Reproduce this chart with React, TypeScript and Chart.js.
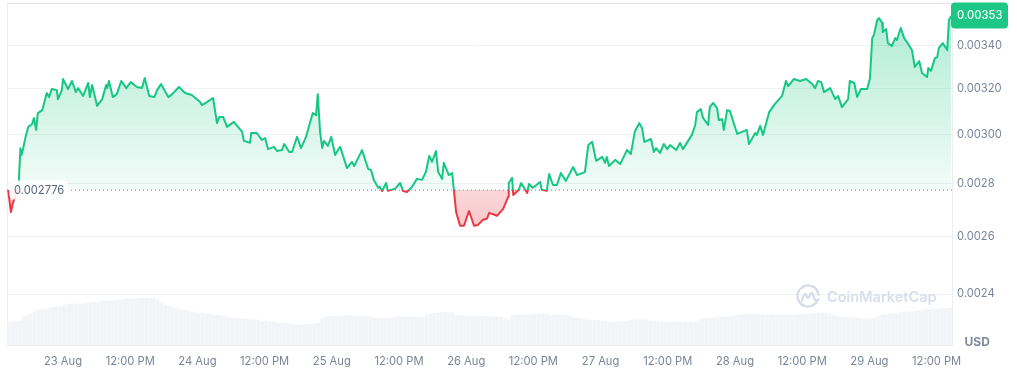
import React, { useEffect, useRef } from "react";
import { Chart, registerables } from "chart.js";

Chart.register(...registerables);

const BASE_PRICE = 0.002776;
const LAST_PRICE_LABEL = "0.00353";
const BASE_PRICE_LABEL = "0.002776";
const HOURS_SPAN = 168.75;

const xTickHours = [10, 22, 34, 46, 58, 70, 82, 94, 106, 118, 130, 142, 154, 166];
const xTickLabels = ["23 Aug", "12:00 PM", "24 Aug", "12:00 PM", "25 Aug", "12:00 PM", "26 Aug", "12:00 PM", "27 Aug", "12:00 PM", "28 Aug", "12:00 PM", "29 Aug", "12:00 PM"];
const yTickValues = [0.0034, 0.0032, 0.003, 0.0028, 0.0026, 0.0024];
const yTickLabels = ["0.00340", "0.00320", "0.00300", "0.0028", "0.0026", "0.0024"];

// hours since the start of the window
const priceHours = [
  0.2, 0.7, 1.1, 1.6, 2.1, 2.4, 2.6, 2.9, 3.4, 3.8, 4.5, 4.8, 5.2, 5.5, 6.3, 7.1, 7.5, 8.0, 8.9, 9.1, 9.8, 10.0, 10.9, 11.6, 12.3, 12.7, 13.6, 14.5, 14.8, 15.2,
  16.1, 17.0, 17.7, 17.9, 18.2, 18.9, 19.6, 20.4, 21.3, 22.1, 23.2, 24.1, 24.6, 25.4, 26.3, 26.8, 27.5, 28.8, 29.5, 30.7, 31.8, 33.0, 34.5, 34.8, 35.7, 36.8, 37.5, 37.9, 38.6, 39.3,
  40.5, 42.0, 42.3, 43.4, 43.6, 44.6, 45.5, 46.1, 46.6, 47.7, 48.2, 49.1, 49.5, 50.4, 50.9, 51.8, 52.5, 53.4, 54.6, 55.2, 55.5, 55.9, 56.3, 56.6, 57.3, 57.9, 58.6, 59.3, 59.5, 60.7,
  61.6, 62.0, 63.4, 64.5, 65.0, 65.5, 66.3, 66.6, 67.0, 67.7, 68.0, 69.3, 70.2, 70.7, 71.4, 72.3, 73.2, 74.1, 74.8, 75.4, 75.9, 76.6, 77.0, 77.7, 78.0, 78.9, 79.5, 79.8, 80.2, 80.9,
  81.6, 82.5, 83.4, 84.1, 85.0, 85.7, 86.1, 87.5, 88.6, 89.5, 89.6, 90.2, 90.4, 91.4, 91.8, 92.9, 93.2, 93.9, 95.2, 95.5, 96.4, 96.8, 97.5, 98.2, 98.9, 99.8, 101.1, 101.8, 103.2, 103.8,
  104.5, 105.2, 106.3, 106.8, 107.1, 107.5, 108.6, 109.5, 110.7, 111.4, 112.1, 112.9, 113.4, 113.8, 115.0, 115.5, 115.9, 116.6, 117.3, 117.9, 118.4, 119.5, 120.2, 120.7, 122.3, 122.9, 123.2, 123.9, 124.3, 125.2,
  125.5, 126.1, 126.8, 127.1, 127.7, 128.0, 128.6, 129.1, 129.6, 130.4, 132.1, 132.5, 133.6, 133.9, 134.5, 135.0, 136.1, 137.1, 138.4, 139.1, 139.5, 140.5, 141.6, 142.7, 143.8, 144.3, 144.8, 145.4, 145.9, 147.0,
  147.9, 148.4, 149.1, 150.2, 150.5, 151.3, 151.8, 152.5, 153.6, 154.1, 154.5, 154.8, 155.4, 155.7, 156.3, 156.4, 157.0, 157.3, 158.0, 158.6, 158.9, 159.6, 160.2, 160.7, 161.6, 162.1, 162.9, 163.4, 164.3, 164.5,
  165.0, 165.7, 166.1, 166.4, 167.1, 167.9, 168.2, 168.6,
];

// price in millionths of a US dollar
const priceMicroUsd = [
  2777, 2692, 2730, 2757, 2808, 2944, 2916, 2944, 2999, 3033, 3045, 3071, 3020, 3092, 3105, 3180, 3162, 3198, 3193, 3153, 3193, 3243, 3198, 3234, 3184, 3202, 3167, 3225, 3162, 3216,
  3123, 3153, 3216, 3202, 3234, 3162, 3175, 3234, 3202, 3229, 3207, 3202, 3247, 3167, 3162, 3193, 3220, 3162, 3175, 3207, 3180, 3171, 3140, 3127, 3140, 3158, 3049, 3075, 3075, 3033,
  3054, 3012, 2974, 2966, 3007, 3007, 2978, 2986, 2940, 2949, 2932, 2936, 2961, 2928, 2928, 2991, 2944, 2991, 3092, 3083, 3175, 3012, 2944, 2974, 2953, 2991, 2916, 2944, 2949, 2863,
  2888, 2871, 2936, 2859, 2855, 2816, 2785, 2788, 2773, 2804, 2773, 2781, 2804, 2773, 2769, 2788, 2820, 2816, 2847, 2912, 2888, 2932, 2847, 2820, 2884, 2835, 2843, 2777, 2692, 2641,
  2641, 2696, 2641, 2644, 2663, 2667, 2689, 2678, 2704, 2750, 2804, 2824, 2757, 2777, 2804, 2765, 2800, 2785, 2808, 2777, 2773, 2839, 2796, 2796, 2843, 2812, 2867, 2835, 2847, 2957,
  2970, 2892, 2908, 2884, 2908, 2871, 2896, 2879, 2936, 2920, 3012, 3049, 3028, 2970, 2982, 2928, 2944, 2924, 2961, 2940, 2957, 2936, 2966, 2940, 2999, 3041, 3096, 3109, 3071, 3041,
  3118, 3136, 3114, 3062, 3066, 3020, 3105, 3101, 3062, 3003, 3020, 2961, 3007, 2999, 3037, 2999, 3096, 3131, 3167, 3234, 3211, 3243, 3234, 3243, 3220, 3202, 3234, 3229, 3184, 3202,
  3153, 3167, 3118, 3153, 3234, 3225, 3162, 3198, 3198, 3247, 3434, 3449, 3522, 3532, 3507, 3463, 3478, 3410, 3396, 3434, 3425, 3483, 3434, 3415, 3377, 3298, 3325, 3270, 3252, 3293,
  3280, 3339, 3344, 3386, 3410, 3377, 3522, 3542,
];

// one bar every 40 minutes, in millions of US dollars
const VOLUME_STEP_HOURS = 2 / 3;
const volumeMillions = [
  23, 23, 24, 24, 28, 30, 31, 33, 35, 35.5, 36, 37, 38, 38, 38.5, 40, 41, 40.5, 41, 41, 41, 42, 42, 43, 43, 44, 44, 44, 44, 44.5,
  45, 46, 46, 46, 46, 46.5, 46.5, 46.5, 46.5, 47, 45, 42, 40, 39, 37, 36, 35, 34.5, 34, 33, 33, 32, 32, 31, 31, 30, 30, 29, 29, 28,
  27, 27, 26.5, 26, 25.5, 25.5, 25, 25, 24, 24, 23, 23, 22, 22, 22, 21, 21, 20, 20, 20, 20.5, 21, 21, 22, 27, 28, 28.5, 29, 29, 29,
  29, 29, 29, 29, 29, 29, 29, 28, 27, 27, 27, 27, 27, 27, 28.5, 28.5, 28, 28, 28, 28, 28, 28, 30, 31, 31.5, 32, 32.5, 33, 32.5, 32,
  29, 29, 29, 29, 29, 29, 29, 28.5, 28.5, 28.5, 28, 28, 28, 26, 25, 29.5, 30, 30, 30, 30, 30.5, 31, 31, 31, 30.5, 30, 30, 30, 30, 30,
  29, 28, 27, 27, 26, 25, 25, 24.5, 24.5, 24, 24, 23, 23, 23, 23, 23.5, 24, 25, 25, 25.5, 25.5, 25, 24, 24, 23.5, 23, 23, 23, 23, 23,
  23, 23, 22.5, 23, 23, 25, 26, 27, 27, 27, 28, 28, 28, 28.5, 29, 30, 30, 30.5, 31, 31, 31, 30.5, 30, 30, 30, 30, 30, 30, 30, 30,
  30, 30, 30.5, 31, 31, 31, 31.5, 32, 32, 32, 31, 30, 29, 28, 28, 27.5, 27, 27, 27, 26, 26, 25.5, 27, 29, 30, 30, 31, 31, 32, 33,
  33, 33, 33, 34, 34, 35, 35.5, 35.5, 36, 36, 36.5, 36.5, 37, 37,
];

const GREEN = "#16c784";
const RED = "#ea3943";
const FONT = "Inter, 'Noto Sans', sans-serif";
const TICK_COLOR = "#7a8598";

function roundedBox(c: CanvasRenderingContext2D, x: number, y: number, w: number, h: number, r: number) {
  c.beginPath();
  c.roundRect(x, y, w, h, r);
  c.fill();
}

function noMargins(s: any) {
  s.paddingLeft = 0;
  s.paddingRight = 0;
  s.paddingTop = 0;
  s.paddingBottom = 0;
}

const framePlugin = {
  id: "frame",
  beforeDatasetsDraw(chart: any) {
    const { ctx: c, chartArea: a } = chart;
    c.save();
    c.strokeStyle = "#eceef2";
    c.lineWidth = 1;
    c.strokeRect(a.left + 0.5, a.top + 0.5, a.right - a.left, a.bottom - a.top);
    c.strokeStyle = "#e3e5e9";
    c.beginPath();
    c.moveTo(a.left, a.top + 0.5);
    c.lineTo(a.right, a.top + 0.5);
    c.stroke();

    // watermark
    const lx = a.right - 144;
    const ly = a.bottom - 49;
    c.strokeStyle = "#d6dbe7";
    c.lineWidth = 2.2;
    c.lineCap = "round";
    c.lineJoin = "round";
    c.beginPath();
    c.arc(lx, ly, 10.5, 0.35, Math.PI * 2 - 0.1, false);
    c.stroke();
    c.beginPath();
    c.moveTo(lx - 6, ly + 5);
    c.quadraticCurveTo(lx - 3.5, ly - 6.5, lx - 1, ly + 1);
    c.quadraticCurveTo(lx + 0.5, ly + 3.5, lx + 2, ly - 1);
    c.quadraticCurveTo(lx + 4, ly - 6, lx + 6, ly + 2);
    c.quadraticCurveTo(lx + 8, ly + 6, lx + 10.5, ly + 3.5);
    c.stroke();
    c.fillStyle = "#d9deea";
    c.font = `600 14.5px ${FONT}`;
    c.textAlign = "left";
    c.textBaseline = "middle";
    c.fillText("CoinMarketCap", lx + 19, ly + 2);
    c.restore();
  },
  afterDatasetsDraw(chart: any) {
    const { ctx: c, chartArea: a, scales } = chart;
    const by = scales.y.getPixelForValue(BASE_PRICE);
    c.save();
    c.fillStyle = "rgba(255,255,255,0.88)";
    roundedBox(c, a.left + 2.5, by - 9.5, 59, 19, 5);
    c.fillStyle = "#58667e";
    c.font = `11.2px ${FONT}`;
    c.textAlign = "left";
    c.textBaseline = "middle";
    c.fillText(BASE_PRICE_LABEL, a.left + 7, by + 1);

    c.fillStyle = "#1cc785";
    roundedBox(c, a.right - 1, a.top - 0.5, 57, 26, 4);
    c.fillStyle = "#f2fff9";
    c.font = `500 11.2px ${FONT}`;
    c.fillText(LAST_PRICE_LABEL, a.right + 5, a.top + 13);

    c.fillStyle = "#808a9d";
    c.font = `700 12px ${FONT}`;
    c.fillText("USD", a.right + 12.5, a.bottom - 2.5);
    c.restore();
  },
};

export default function App() {
  const ref = useRef<HTMLCanvasElement>(null);

  useEffect(() => {
    const canvas = ref.current;
    if (!canvas) return;
    const priceSeries = priceHours.map((h, i) => ({ x: h, y: priceMicroUsd[i] / 1e6 }));
    const volumeSeries = volumeMillions.map((v, i) => ({ x: i * VOLUME_STEP_HOURS + 0.25, y: v }));
    const baseSeries = [
      { x: 0, y: BASE_PRICE },
      { x: HOURS_SPAN, y: BASE_PRICE },
    ];
    const chart = new Chart(canvas, {
      type: "line",
      data: {
        datasets: [
          {
            type: "line",
            data: priceSeries,
            yAxisID: "y",
            borderColor: GREEN,
            borderWidth: 2,
            pointRadius: 0,
            tension: 0,
            borderJoinStyle: "round",
            fill: { target: { value: BASE_PRICE }, above: "rgba(22,199,132,0.2)", below: "rgba(234,57,67,0.2)" },
            order: 2,
          },
          {
            type: "line",
            data: baseSeries,
            yAxisID: "y",
            borderColor: "#7d8799",
            borderWidth: 1,
            borderDash: [1, 3],
            pointRadius: 0,
            fill: false,
            order: 1,
          },
          {
            type: "bar",
            data: volumeSeries,
            yAxisID: "v",
            backgroundColor: "#f2f4f7",
            barThickness: 3,
            order: 3,
          },
        ],
      } as any,
      options: {
        animation: false,
        responsive: false,
        devicePixelRatio: 1,
        layout: { padding: { left: 7, top: 3, right: 0, bottom: 0 } },
        plugins: { legend: { display: false }, tooltip: { enabled: false } },
        events: [],
        scales: {
          x: {
            type: "linear",
            offset: false,
            min: 0,
            max: HOURS_SPAN,
            grid: { display: false, offset: false, drawTicks: false },
            border: { display: false },
            afterBuildTicks: (s: any) => {
              s.ticks = xTickHours.map((value) => ({ value }));
            },
            afterFit: (s: any) => {
              s.height = 25;
              noMargins(s);
            },
            ticks: {
              autoSkip: false,
              maxRotation: 0,
              padding: 10,
              color: TICK_COLOR,
              font: { family: FONT, size: 11.2 },
              callback: (v: any) => xTickLabels[xTickHours.indexOf(Number(v))] ?? "",
            },
          },
          y: {
            type: "logarithmic",
            position: "right",
            bounds: "data",
            min: 0.002235,
            max: 0.003607,
            grid: { color: "#eff1f4", drawTicks: false, lineWidth: 1 },
            border: { display: true, color: "#eceef2" },
            afterBuildTicks: (s: any) => {
              s.ticks = yTickValues.map((value) => ({ value }));
            },
            afterFit: (s: any) => {
              s.width = 65;
              noMargins(s);
            },
            ticks: {
              autoSkip: false,
              padding: 5,
              color: TICK_COLOR,
              font: { family: FONT, size: 11.2 },
              callback: (v: any) => yTickLabels[yTickValues.indexOf(Number(v))] ?? "",
            },
          },
          v: { type: "linear", display: false, min: 0, max: 341.5 },
        },
      } as any,
      plugins: [framePlugin],
    } as any);

    // Gradients depend on the final scale geometry.
    const area = chart.chartArea;
    const c = canvas.getContext("2d")!;
    const yScale = chart.scales.y;
    const basePx = yScale.getPixelForValue(BASE_PRICE);
    const up = c.createLinearGradient(0, area.top, 0, basePx);
    up.addColorStop(0, "rgba(22,199,132,0.36)");
    up.addColorStop(1, "rgba(22,199,132,0.05)");
    const down = c.createLinearGradient(0, basePx, 0, yScale.getPixelForValue(0.00264));
    down.addColorStop(0, "rgba(234,57,67,0.2)");
    down.addColorStop(1, "rgba(234,57,67,0.28)");
    const stroke = c.createLinearGradient(0, area.top, 0, area.bottom);
    const split = (basePx - area.top) / (area.bottom - area.top);
    stroke.addColorStop(0, GREEN);
    stroke.addColorStop(split, GREEN);
    stroke.addColorStop(split, RED);
    stroke.addColorStop(1, RED);
    const ds = chart.data.datasets[0] as any;
    ds.borderColor = stroke;
    ds.fill = { target: { value: BASE_PRICE }, above: up, below: down };
    chart.update();

    return () => chart.destroy();
  }, []);

  return (
    <div style={{ position: "absolute", left: 0, top: 0, width: 1017, height: 370, background: "#fff" }}>
      <canvas ref={ref} width={1017} height={370} style={{ display: "block" }} />
    </div>
  );
}
